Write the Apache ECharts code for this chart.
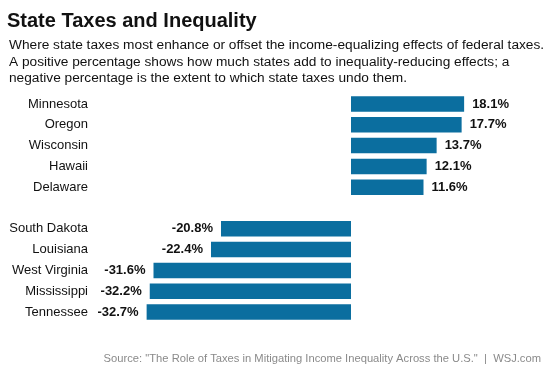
<!DOCTYPE html>
<html>
<head>
<meta charset="utf-8">
<script src="https://cdn.jsdelivr.net/npm/echarts@6/dist/echarts.min.js"></script>
<style>
html,body{margin:0;padding:0;background:#fff;}
#c{width:553px;height:369px;}
</style>
</head>
<body>
<div id="c"></div>
<script>
// Data
const states = ["Minnesota","Oregon","Wisconsin","Hawaii","Delaware","","South Dakota","Louisiana","West Virginia","Mississippi","Tennessee"];
const values = [18.1, 17.7, 13.7, 12.1, 11.6, null, -20.8, -22.4, -31.6, -32.2, -32.7];
const titleText = "State Taxes and Inequality";
const subtitleText = "Where state taxes most enhance or offset the income-equalizing effects of federal taxes.\nA positive percentage shows how much states add to inequality-reducing effects; a\nnegative percentage is the extent to which state taxes undo them.";
const sourceText = "Source: \"The Role of Taxes in Mitigating Income Inequality Across the U.S.\"  |  WSJ.com";

const FONT = "'Liberation Sans', Arial, sans-serif";
const chart = echarts.init(document.getElementById('c'), null, {renderer:'canvas'});
chart.setOption({
  animation:false,
  backgroundColor:'#ffffff',
  title:[
    {text:titleText, left:2, top:6, textStyle:{fontFamily:FONT, fontSize:20, fontWeight:'bold', color:'#111'}},
    {text:subtitleText, left:4, top:32, textStyle:{fontFamily:FONT, fontSize:13.7, fontWeight:'normal', color:'#111', lineHeight:16.5}},
    {text:sourceText, right:7, top:348, textStyle:{fontFamily:FONT, fontSize:11.2, fontWeight:'normal', color:'#8a8a8a'}}
  ],
  grid:{left:101, width:375, top:93.6, height:228.8, containLabel:false},
  xAxis:{type:'value', min:-40, max:20, show:false},
  yAxis:{type:'category', data:states, inverse:true,
    axisLine:{show:false}, axisTick:{show:false}, splitLine:{show:false},
    axisLabel:{fontFamily:FONT, fontSize:13, color:'#111', margin:13}},
  series:[{
    type:'bar', data:values.map(v => v===null ? null : {value:v, label:{position: v>=0 ? 'right' : 'left'}}),
    barWidth:15.5, itemStyle:{color:'#0b6e9f'},
    label:{show:true, distance:8, fontFamily:FONT, fontSize:13, fontWeight:'bold', color:'#111',
      formatter: p => p.value.toFixed(1) + '%'}
  }]
});
</script>
</body>
</html>
